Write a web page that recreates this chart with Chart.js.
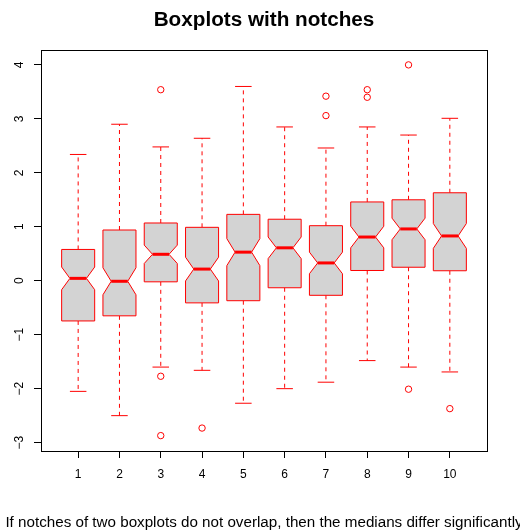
<!DOCTYPE html>
<html>
<head>
<meta charset="utf-8">
<script src="https://cdn.jsdelivr.net/npm/chart.js@4.4.1/dist/chart.umd.min.js"></script>
<style>
    html, body { margin: 0; padding: 0; background: #fff; }
    #wrap { width: 520px; height: 531px; }
</style>
</head>
<body>
<div id="wrap"><canvas id="chart"></canvas></div>
<script>
// values
var groups = [1, 2, 3, 4, 5, 6, 7, 8, 9, 10];
var whiskerLow = [-2.05, -2.50, -1.60, -1.66, -2.27, -2.00, -1.88, -1.48, -1.60, -1.69];
var lowerQuartile = [-0.745, -0.65, -0.02, -0.41, -0.37, -0.13, -0.27, 0.19, 0.25, 0.185];
var medians = [0.044, -0.01, 0.49, 0.216, 0.53, 0.61, 0.33, 0.81, 0.96, 0.83];
var upperQuartile = [0.58, 0.94, 1.07, 0.99, 1.23, 1.14, 1.02, 1.46, 1.50, 1.63];
var whiskerHigh = [2.34, 2.90, 2.48, 2.64, 3.60, 2.85, 2.46, 2.85, 2.70, 3.01];
var notchHalf = [0.21, 0.25, 0.17, 0.22, 0.25, 0.20, 0.20, 0.20, 0.20, 0.23];
var outliers = [[], [], [3.54, -1.77, -2.87], [-2.73], [], [], [3.42, 3.06], [3.54, 3.40], [4.00, -2.01], [-2.37]];
var xTicks = [1, 2, 3, 4, 5, 6, 7, 8, 9, 10];
var yTicks = [-3, -2, -1, 0, 1, 2, 3, 4];

var xLabel = 'If notches of two boxplots do not overlap, then the medians differ significantly';
var fontFamily = '"Liberation Sans", Arial, Helvetica, sans-serif';

var outlierPoints = [];
outliers.forEach(function (list, i) {
    list.forEach(function (v) {
        outlierPoints.push({x: groups[i], y: v});
    });
});

var notchedBoxes = {
    id: 'notchedBoxes',
    beforeDatasetsDraw: function (chart) {
        var ctx = chart.ctx;
        var xs = chart.scales.x;
        var ys = chart.scales.y;
        var py = function (v) { return ys.getPixelForValue(v); };

        ctx.save();
        medians.forEach(function (med, i) {
            var x = xs.getPixelForValue(groups[i]);
            var w = xs.getPixelForValue(groups[i] + 0.4) - x;
            var st = xs.getPixelForValue(groups[i] + 0.2) - x;
            var nLo = med - notchHalf[i];
            var nHi = med + notchHalf[i];

            // whiskers
            ctx.strokeStyle = '#ff0000';
            ctx.lineWidth = 1;
            ctx.setLineDash([4, 4]);
            ctx.beginPath();
            ctx.moveTo(x, py(upperQuartile[i]));
            ctx.lineTo(x, py(whiskerHigh[i]));
            ctx.moveTo(x, py(lowerQuartile[i]));
            ctx.lineTo(x, py(whiskerLow[i]));
            ctx.stroke();
            ctx.setLineDash([]);

            // staples
            ctx.beginPath();
            ctx.moveTo(x - st, py(whiskerHigh[i]));
            ctx.lineTo(x + st, py(whiskerHigh[i]));
            ctx.moveTo(x - st, py(whiskerLow[i]));
            ctx.lineTo(x + st, py(whiskerLow[i]));
            ctx.stroke();

            // notched box
            ctx.beginPath();
            ctx.moveTo(x - w, py(lowerQuartile[i]));
            ctx.lineTo(x - w, py(nLo));
            ctx.lineTo(x - w / 2, py(med));
            ctx.lineTo(x - w, py(nHi));
            ctx.lineTo(x - w, py(upperQuartile[i]));
            ctx.lineTo(x + w, py(upperQuartile[i]));
            ctx.lineTo(x + w, py(nHi));
            ctx.lineTo(x + w / 2, py(med));
            ctx.lineTo(x + w, py(nLo));
            ctx.lineTo(x + w, py(lowerQuartile[i]));
            ctx.closePath();
            ctx.fillStyle = '#d3d3d3';
            ctx.fill();
            ctx.stroke();

            // median
            ctx.lineWidth = 3;
            ctx.beginPath();
            ctx.moveTo(x - w / 2, py(med));
            ctx.lineTo(x + w / 2, py(med));
            ctx.stroke();
        });
        ctx.restore();
    },
    afterDraw: function (chart) {
        var a = chart.chartArea;
        var ctx = chart.ctx;
        ctx.save();
        ctx.strokeStyle = '#000';
        ctx.lineWidth = 1;
        ctx.strokeRect(Math.round(a.left) + 0.5, Math.round(a.top) + 0.5,
            Math.round(a.right - a.left), Math.round(a.bottom - a.top));

        // axis label, allowed to run past the canvas edge like the original
        ctx.fillStyle = '#000';
        ctx.font = '15.2px ' + fontFamily;
        ctx.textAlign = 'center';
        ctx.textBaseline = 'alphabetic';
        ctx.fillText(xLabel, (a.left + a.right) / 2, 526.5);
        ctx.restore();
    }
};

new Chart(document.getElementById('chart'), {
    type: 'scatter',
    data: {
        datasets: [{
            label: 'outliers',
            data: outlierPoints,
            pointStyle: 'circle',
            pointRadius: 3.2,
            pointBorderWidth: 1,
            borderColor: '#ff0000',
            backgroundColor: 'rgba(0,0,0,0)'
        }]
    },
    options: {
        responsive: true,
        maintainAspectRatio: false,
        animation: false,
        layout: {padding: {left: 0, right: 33, top: 0, bottom: 0}},
        plugins: {
            legend: {display: false},
            tooltip: {enabled: false},
            title: {
                display: true,
                fullSize: false,
                text: 'Boxplots with notches',
                color: '#000',
                font: {family: fontFamily, size: 20.7, weight: 'bold'},
                padding: {top: 7.4, bottom: 17.8}
            }
        },
        scales: {
            x: {
                type: 'linear',
                min: 0.1,
                max: 10.9,
                afterBuildTicks: function (scale) {
                    scale.ticks = xTicks.map(function (v) { return {value: v}; });
                },
                afterFit: function (scale) { scale.height = 80; },
                border: {display: false},
                grid: {drawOnChartArea: false, drawTicks: true, tickLength: 7, color: '#000'},
                ticks: {
                    color: '#000',
                    font: {family: fontFamily, size: 12},
                    padding: 9,
                    maxRotation: 0,
                    autoSkip: false
                }
            },
            y: {
                type: 'linear',
                min: -3.155,
                max: 4.275,
                afterBuildTicks: function (scale) {
                    scale.ticks = yTicks.map(function (v) { return {value: v}; });
                },
                afterFit: function (scale) { scale.width = 41; },
                border: {display: false},
                grid: {drawOnChartArea: false, drawTicks: true, tickLength: 7, color: '#000'},
                ticks: {
                    color: '#000',
                    font: {family: fontFamily, size: 12},
                    minRotation: 90,
                    maxRotation: 90,
                    crossAlign: 'center',
                    padding: 7,
                    autoSkip: false,
                    callback: function (v) { return String(v).replace('-', '\u2212'); }
                }
            }
        }
    },
    plugins: [notchedBoxes]
});
</script>
</body>
</html>
